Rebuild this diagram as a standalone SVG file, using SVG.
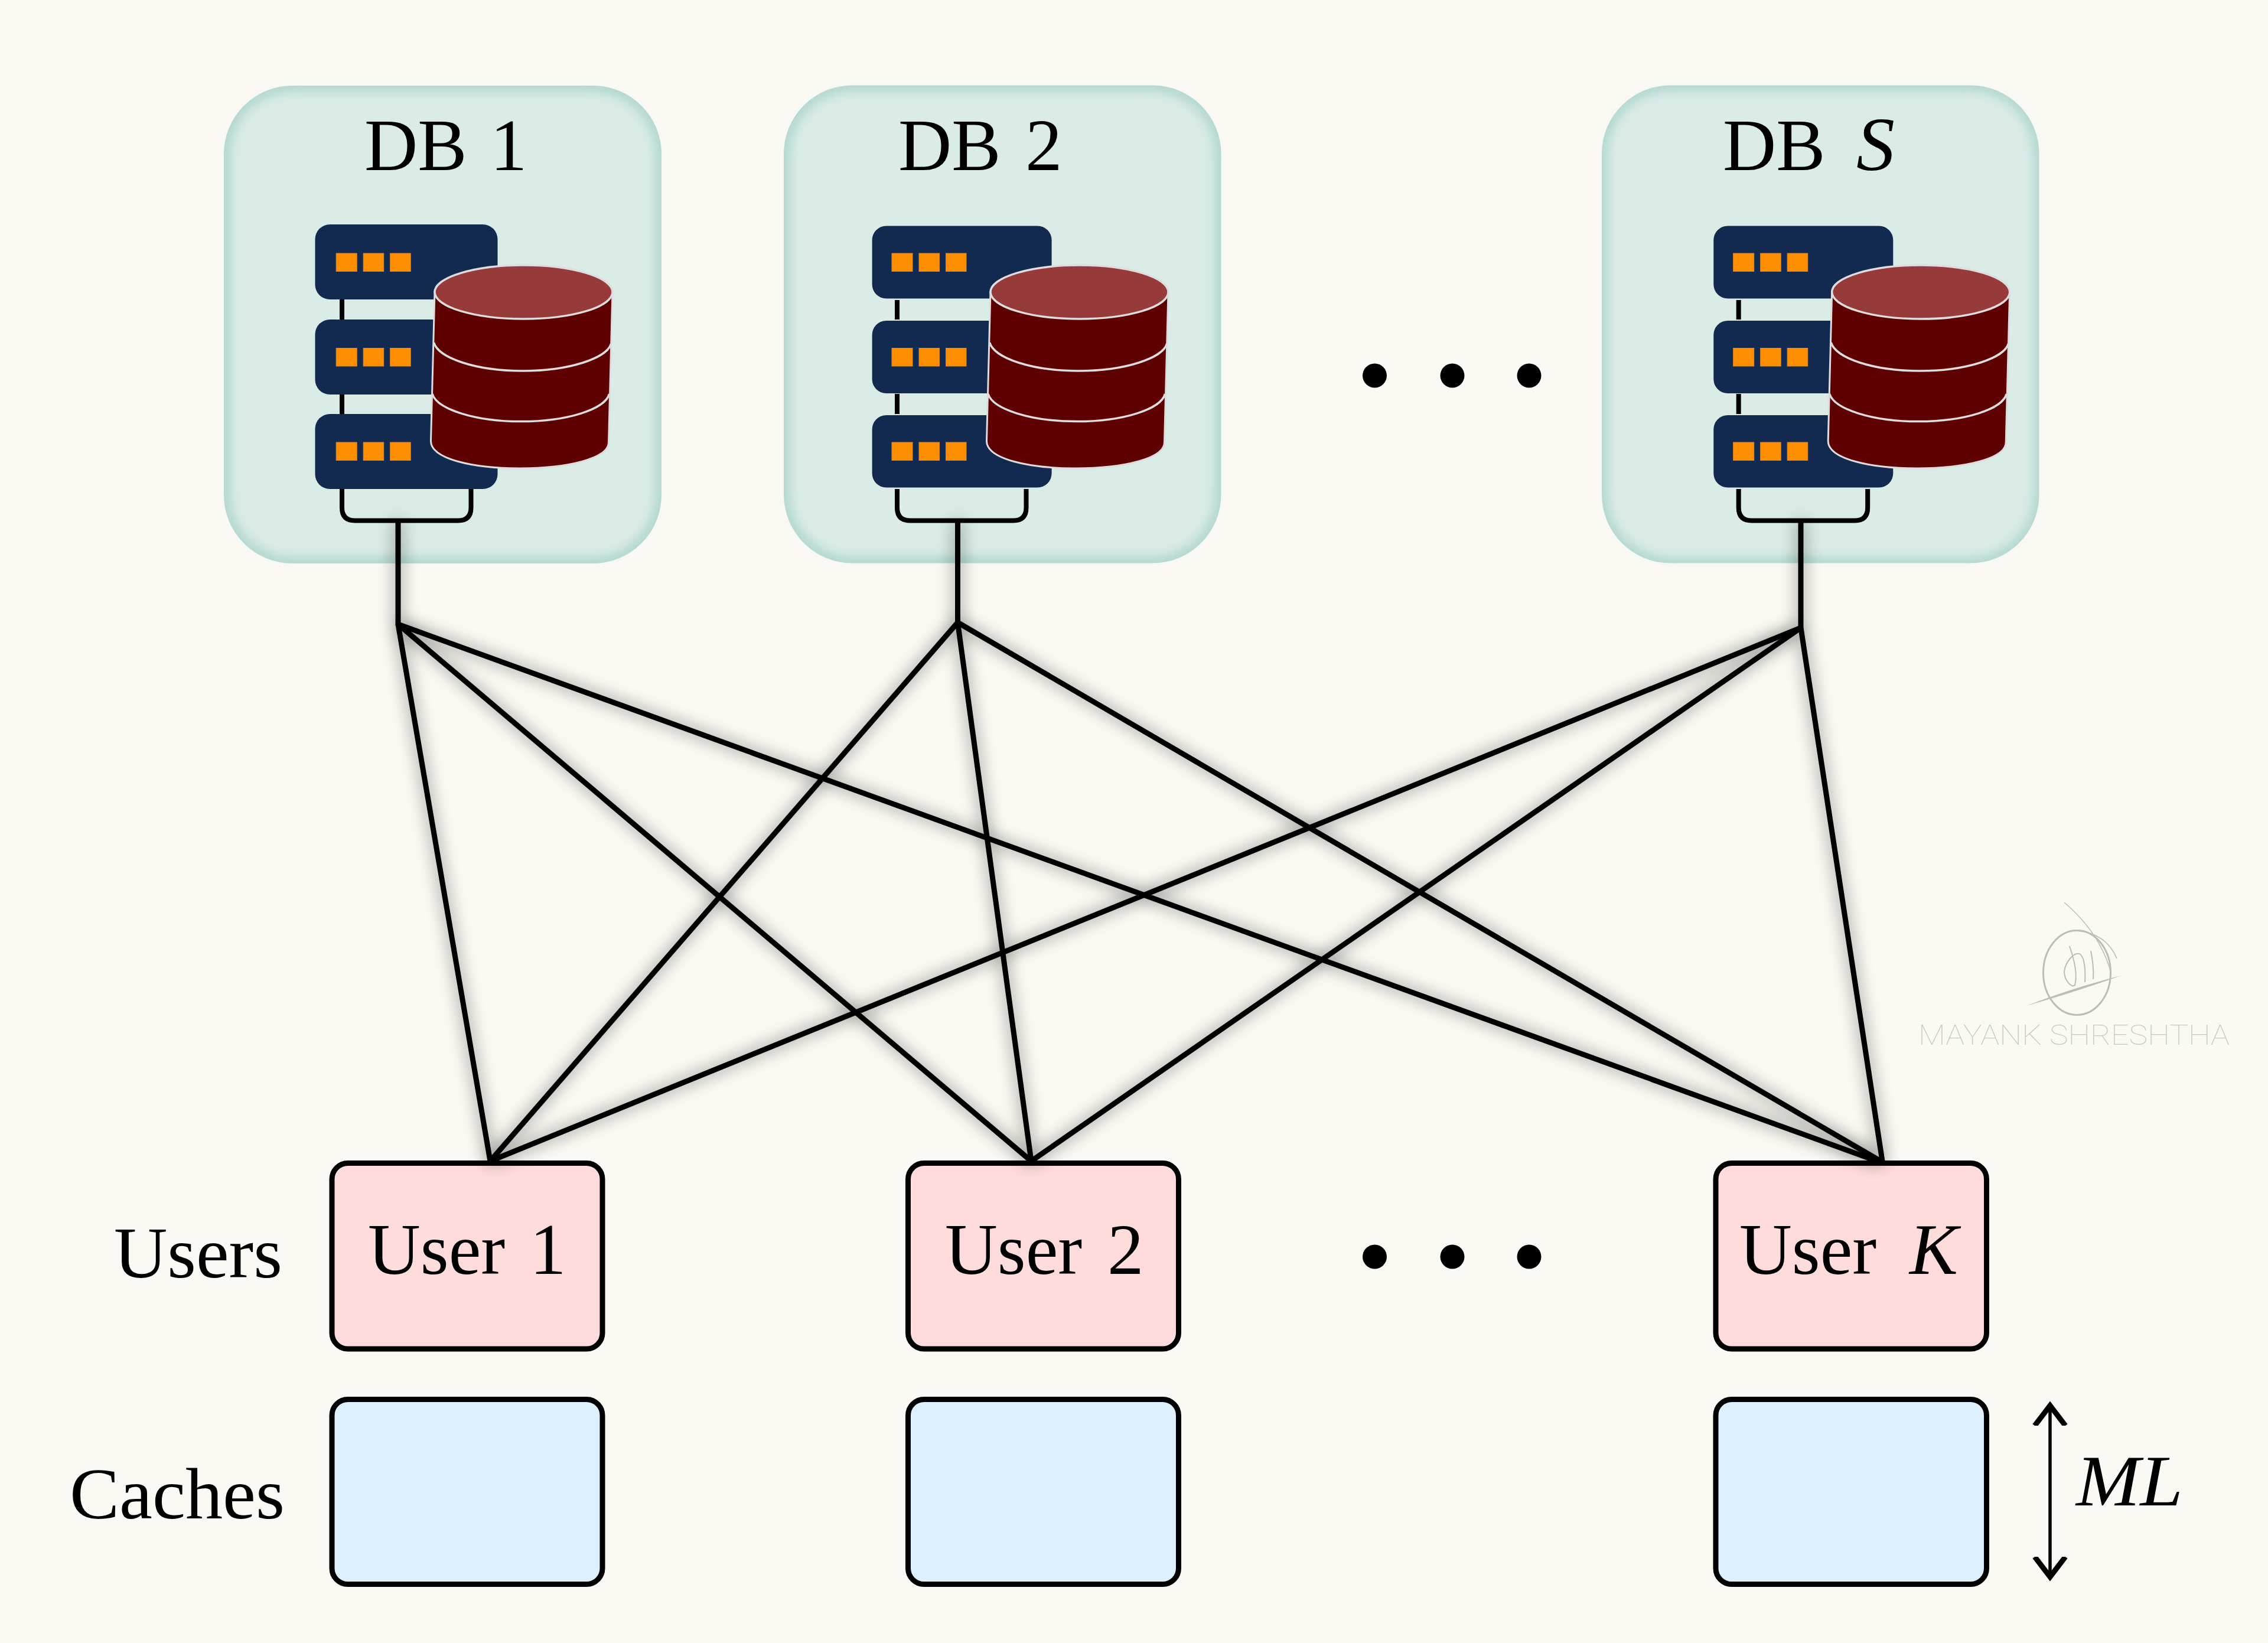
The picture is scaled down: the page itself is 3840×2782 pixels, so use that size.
<svg xmlns="http://www.w3.org/2000/svg" xmlns:xlink="http://www.w3.org/1999/xlink" width="3840" height="2782" viewBox="0 0 3840 2782">
<style>
.t{font-family:"Liberation Serif","Times New Roman",serif;font-size:123px;fill:#000}
.i{font-style:italic}
.edge{fill:#B4D8D1}
.inner{fill:#DBECE7;filter:url(#soft)}
.srv{fill:#132A50}
.led{fill:#FF8F00;stroke:#E08A20;stroke-width:1}
.wire{fill:none;stroke:#000;stroke-width:8}
.body{fill:#5E0000;stroke:#DDDDE0;stroke-width:3}
.band{fill:none;stroke:#DDDDE0;stroke-width:3.5}
.top{fill:#963A3A;stroke:#DDDDE0;stroke-width:3.5}
.user{fill:#FFDCDC;stroke:#000;stroke-width:9}
.cache{fill:#DDF0FF;stroke:#000;stroke-width:9}
.link{stroke:#000;stroke-width:9;fill:none}
.sig{fill:none;stroke:#BDBDB8}
</style>
<defs>
<filter id="soft" x="-10%" y="-10%" width="120%" height="120%"><feGaussianBlur stdDeviation="9"/></filter>
<filter id="shadow" filterUnits="userSpaceOnUse" x="0" y="0" width="3840" height="2782"><feGaussianBlur stdDeviation="14"/></filter>
<marker id="head" viewBox="0 0 42 64" refX="34" refY="32" markerWidth="42" markerHeight="64" markerUnits="userSpaceOnUse" orient="auto-start-reverse"><path d="M0,6 L34,32 L0,58" fill="none" stroke="#000" stroke-width="9"/></marker>
<g id="cyl">
<path class="body" d="M1677,494 L1670.5,747 C1671,777 1741,793 1821,793 C1901,793 1971,777 1971.5,749 L1978,494 Z"/>
<path class="band" d="M1675.6,580 C1683,606 1746,628 1826,628 C1906,628 1969,606 1975.6,582"/>
<path class="band" d="M1673,667 C1681,693 1746,713.6 1823,713.6 C1901,713.6 1966,693 1972.5,667"/>
<ellipse class="top" cx="1827.5" cy="494.5" rx="150.5" ry="45.5"/>
</g>
<g id="leds">
<rect class="led" x="1510" y="429" width="35" height="30.5"/><rect class="led" x="1556" y="429" width="34.5" height="30.5"/><rect class="led" x="1601.5" y="429" width="34.5" height="30.5"/>
<rect class="led" x="1510" y="589.5" width="35" height="30.5"/><rect class="led" x="1556" y="589.5" width="34.5" height="30.5"/><rect class="led" x="1601.5" y="589.5" width="34.5" height="30.5"/>
<rect class="led" x="1510" y="749" width="35" height="30.5"/><rect class="led" x="1556" y="749" width="34.5" height="30.5"/><rect class="led" x="1601.5" y="749" width="34.5" height="30.5"/>
</g>
<g id="rack">
<path class="wire" d="M1519,508 V541 M1519,667 V701 M1519,828 V859.5 Q1519,881.5 1541,881.5 H1715.5 Q1737.5,881.5 1737.5,859.5 V828"/>
<rect class="srv" x="1476.6" y="382.5" width="304" height="123" rx="24"/>
<rect class="srv" x="1476.6" y="543" width="304" height="123" rx="24"/>
<rect class="srv" x="1476.6" y="703" width="304" height="122.5" rx="24"/>
<use href="#leds"/>
</g>
</defs>
<rect id="background" x="0" y="0" width="3840" height="2782" fill="#FAF9F3"/>

<g id="db1">
<rect class="edge" x="379" y="145" width="741" height="809" rx="116"/>
<rect class="inner" x="391" y="157" width="717" height="785" rx="105"/>
<path class="wire" transform="translate(-940,0)" d="M1519,500 V545 M1519,660 V705 M1519,820 V859.5 Q1519,881.5 1541,881.5 H1715.5 Q1737.5,881.5 1737.5,859.5 V820"/>
<rect class="srv" x="533.5" y="380" width="309" height="127" rx="25"/>
<rect class="srv" x="533.5" y="541" width="309" height="127" rx="25"/>
<rect class="srv" x="533.5" y="701" width="309" height="127" rx="25"/>
<use href="#leds" transform="translate(-940.8,0)"/>
<use href="#cyl" transform="translate(-941,0)"/>
<text class="t" style="font-size:125px" x="617" y="288">DB <tspan x="830">1</tspan></text>
</g>

<g id="db2">
<rect class="edge" x="1327" y="144.5" width="740.5" height="809" rx="116"/>
<rect class="inner" x="1339" y="156.5" width="716.5" height="785" rx="105"/>
<use href="#rack"/>
<use href="#cyl"/>
<text class="t" style="font-size:125px" x="1521" y="288">DB <tspan x="1736">2</tspan></text>
</g>

<g id="dbs">
<rect class="edge" x="2712" y="144.5" width="740.5" height="809" rx="116"/>
<rect class="inner" x="2723" y="155.5" width="718.5" height="787" rx="106"/>
<use href="#rack" transform="translate(1424.7,0)"/>
<use href="#cyl" transform="translate(1424.7,0)"/>
<text class="t" style="font-size:125px" x="2917" y="288">DB <tspan class="i" x="3143" style="font-size:130px">S</tspan></text>
</g>

<g id="dots-top" fill="#000"><circle cx="2327.5" cy="636" r="20.5"/><circle cx="2459" cy="636" r="20.5"/><circle cx="2589" cy="636" r="20.5"/></g>
<g id="dots-bottom" fill="#000"><circle cx="2327.5" cy="2128" r="20.5"/><circle cx="2459" cy="2128" r="20.5"/><circle cx="2589" cy="2128" r="20.5"/></g>

<g id="user1"><rect class="user" x="562" y="1969.5" width="458" height="314.5" rx="27"/><text class="t" x="623" y="2157">User <tspan x="897">1</tspan></text></g>
<g id="user2"><rect class="user" x="1537.5" y="1969.5" width="458" height="314.5" rx="27"/><text class="t" x="1600" y="2157">User <tspan x="1875">2</tspan></text></g>
<g id="userk"><rect class="user" x="2905" y="1969.5" width="458.5" height="314.5" rx="27"/><text class="t" x="2945" y="2157">User <tspan class="i" x="3233">K</tspan></text></g>
<g id="cache1"><rect class="cache" x="562" y="2369.5" width="458" height="313" rx="27"/></g>
<g id="cache2"><rect class="cache" x="1537.5" y="2369.5" width="458" height="313" rx="27"/></g>
<g id="cachek"><rect class="cache" x="2905" y="2369.5" width="458.5" height="313" rx="27"/></g>

<text id="users-label" class="t" x="193" y="2163" textLength="285" lengthAdjust="spacingAndGlyphs">Users</text>
<text id="caches-label" class="t" x="118" y="2571" textLength="364" lengthAdjust="spacingAndGlyphs">Caches</text>

<g id="connectors">
<use href="#links" filter="url(#shadow)" opacity="0.6"/>
<g id="links">
<line class="link" x1="674" y1="881" x2="674" y2="1059"/>
<line class="link" x1="1621.5" y1="881" x2="1621.5" y2="1056"/>
<line class="link" x1="3049" y1="881" x2="3049" y2="1065"/>
<line class="link" x1="674" y1="1057" x2="830" y2="1966"/>
<line class="link" x1="674" y1="1057" x2="1746" y2="1966"/>
<line class="link" x1="674" y1="1057" x2="3178" y2="1966"/>
<line class="link" x1="1621.5" y1="1054" x2="830" y2="1966"/>
<line class="link" x1="1621.5" y1="1054" x2="1746" y2="1966"/>
<line class="link" x1="1621.5" y1="1054" x2="3184" y2="1966"/>
<line class="link" x1="3049" y1="1063" x2="830" y2="1966"/>
<line class="link" x1="3049" y1="1063" x2="1746" y2="1966"/>
<line class="link" x1="3049" y1="1063" x2="3187" y2="1966"/>
</g>
</g>

<g id="ml-dimension">
<line x1="3471" y1="2380" x2="3471" y2="2670" stroke="#000" stroke-width="5.5" marker-start="url(#head)" marker-end="url(#head)"/>
<text class="t i" x="3515" y="2549" textLength="181" lengthAdjust="spacingAndGlyphs">ML</text>
</g>

<g id="watermark">
<ellipse class="sig" cx="3516.5" cy="1647" rx="57" ry="71.5" stroke-width="3"/>
<path class="sig" stroke-width="1.5" d="M3495,1528 Q3556,1580 3574,1647 M3516,1576 Q3566,1580 3584,1623"/>
<path fill="#BDBDB8" d="M3431,1703 Q3510,1672 3591,1652 Q3510,1681 3431,1703Z"/>
<path class="sig" stroke-width="2" d="M3504,1602 C3512,1625 3518,1650 3513,1668 C3508,1674 3495,1660 3495,1645 C3497,1630 3510,1612 3521,1615 C3530,1620 3531,1645 3530,1663 M3540,1610 C3544,1630 3545,1645 3544,1658"/>
<text x="3248" y="1769" font-family="Roboto,'Liberation Sans',sans-serif" font-weight="100" font-size="49" fill="#C9C9C4" textLength="527" lengthAdjust="spacingAndGlyphs">MAYANK SHRESHTHA</text>
</g>
</svg>
